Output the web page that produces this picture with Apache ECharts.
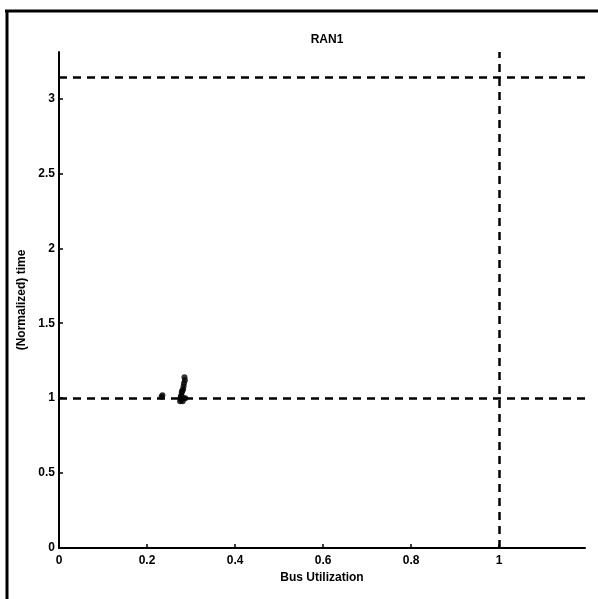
<!DOCTYPE html>
<html>
<head>
<meta charset="utf-8">
<script src="https://cdn.jsdelivr.net/npm/echarts@6/dist/echarts.min.js"></script>
<style>
  html, body { margin: 0; padding: 0; background: #fff; }
  #chart { width: 598px; height: 599px; }
</style>
</head>
<body>
<div id="chart"></div>
<script>
// Measured runs: bus utilization vs. normalized time
const busUtil = [0.233, 0.235, 0.285, 0.286, 0.284, 0.283, 0.282, 0.280, 0.279, 0.278, 0.277, 0.276, 0.278, 0.281, 0.275, 0.283, 0.287];
const normTime = [1.01, 1.02, 1.14, 1.12, 1.10, 1.08, 1.06, 1.05, 1.04, 1.02, 1.01, 1.00, 0.99, 0.98, 0.98, 1.00, 1.00];

// Reference levels: unit time, pi bound, full utilization
const timeRefs = [1, 3.14];
const utilRefs = [1];

const xTicks = [0, 0.2, 0.4, 0.6, 0.8, 1];
const yTicks = [0, 0.5, 1, 1.5, 2, 2.5, 3];

const labelFont = { color: '#000', fontWeight: 'bold', fontSize: 12, fontFamily: 'Liberation Sans Narrow, Liberation Sans, Arial, sans-serif' };

const chart = echarts.init(document.getElementById('chart'), null, { renderer: 'canvas' });

chart.setOption({
  backgroundColor: '#fff',
  animation: false,
  title: {
    text: 'RAN1',
    left: 322,
    textAlign: 'center',
    top: 29,
    textStyle: labelFont
  },
  grid: { left: 59, right: 13, top: 52, bottom: 51, containLabel: false },
  xAxis: {
    type: 'value',
    min: 0,
    max: 1.195,
    name: 'Bus Utilization',
    nameLocation: 'middle',
    nameGap: 24,
    nameTextStyle: labelFont,
    splitLine: { show: false },
    axisLine: { lineStyle: { color: '#000', width: 2 } },
    axisTick: { inside: true, length: 4, lineStyle: { color: '#000', width: 1.5 }, customValues: xTicks },
    axisLabel: Object.assign({ margin: 7, customValues: xTicks }, labelFont)
  },
  yAxis: {
    type: 'value',
    min: 0,
    max: 3.31,
    name: '(Normalized) time',
    nameLocation: 'middle',
    nameGap: 22,
    nameRotate: 90,
    nameTextStyle: labelFont,
    splitLine: { show: false },
    axisLine: { show: true, lineStyle: { color: '#000', width: 2 } },
    axisTick: { show: true, inside: true, length: 4, lineStyle: { color: '#000', width: 1.5 }, customValues: yTicks },
    axisLabel: Object.assign({ margin: 4, customValues: yTicks }, labelFont)
  },
  series: [{
    type: 'scatter',
    data: busUtil.map((u, i) => [u, normTime[i]]),
    symbol: 'circle',
    symbolSize: 6,
    itemStyle: { color: '#000' },
    markLine: {
      silent: true,
      symbol: 'none',
      label: { show: false },
      lineStyle: { color: '#000', width: 2.5, type: [8, 6] },
      data: timeRefs.map(v => ({ yAxis: v })).concat(utilRefs.map(v => ({ xAxis: v })))
    }
  }],
  graphic: [
    { type: 'line', shape: { x1: 5, y1: 11, x2: 598, y2: 11 }, style: { stroke: '#000', lineWidth: 3 } },
    { type: 'line', shape: { x1: 7, y1: 10, x2: 7, y2: 599 }, style: { stroke: '#000', lineWidth: 3 } }
  ]
});
</script>
</body>
</html>
